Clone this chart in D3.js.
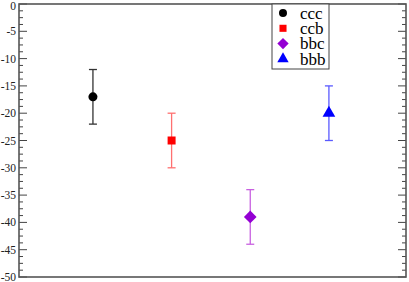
<!DOCTYPE html>
<html>
<head>
<meta charset="utf-8">
<script src="https://cdn.jsdelivr.net/npm/d3@7"></script>
<style>
  body { margin: 0; background: #fff; }
</style>
</head>
<body>
<svg id="chart" width="409" height="282" font-family="Liberation Serif"></svg>
<script>
// data
const names = ["ccc", "ccb", "bbc", "bbb"];
const values = [-17, -25, -39, -20];
const errors = [5, 5, 5, 5];
const colors = ["#000000", "#ff0000", "#9400d3", "#0000ff"];
const barColors = ["#333333", "#ff7070", "#c860e0", "#5a5aff"];
const yTicks = [0, -5, -10, -15, -20, -25, -30, -35, -40, -45, -50];

// square diamond (rotated square) rather than d3's stretched one
const squareDiamond = {
  draw(ctx, size) {
    const r = Math.sqrt(size / 2);
    ctx.moveTo(0, -r); ctx.lineTo(r, 0); ctx.lineTo(0, r); ctx.lineTo(-r, 0); ctx.closePath();
  }
};
const shapes = [d3.symbolCircle, d3.symbolSquare, squareDiamond, d3.symbolTriangle];

const svg = d3.select("#chart");
const plotL = 19, plotR = 406, plotT = 4, plotB = 277;

const x = d3.scaleLinear().domain([0.06, 4.98]).range([plotL, plotR]);
const y = d3.scaleLinear().domain([0, -50]).range([plotT, plotB]);

// minor ticks every 1.25
const minor = d3.range(0, -50.01, -1.25).filter(v => !yTicks.includes(v));

function ticks(data, x0, len) {
  svg.append("g").selectAll("line").data(data).join("line")
      .attr("x1", x0).attr("x2", x0 + len)
      .attr("y1", d => y(d)).attr("y2", d => y(d))
      .attr("stroke", "#444").attr("stroke-width", 1);
}
ticks(yTicks, plotL, 8);
ticks(minor, plotL, 4);
ticks(yTicks, plotR, -8);
ticks(minor, plotR, -4);

// tick labels
svg.append("g").selectAll("text").data(yTicks).join("text")
    .attr("x", 16).attr("y", d => Math.max(y(d), 6))
    .attr("dy", "0.35em")
    .attr("text-anchor", "end")
    .style("font", '11.5px "Liberation Serif"')
    .attr("fill", "#222")
    .text(d => d);

// frame
svg.append("rect")
    .attr("x", plotL).attr("y", plotT)
    .attr("width", plotR - plotL).attr("height", plotB - plotT)
    .attr("fill", "none").attr("stroke", "#555").attr("stroke-width", 1.6);

// error bars
const pts = names.map((n, i) => ({ i, n, v: values[i], e: errors[i] }));
const eb = svg.append("g").selectAll("g").data(pts).join("g")
    .attr("stroke", d => barColors[d.i]).attr("stroke-width", 1.3);
eb.append("line")
    .attr("x1", d => x(d.i + 1)).attr("x2", d => x(d.i + 1))
    .attr("y1", d => y(d.v + d.e)).attr("y2", d => y(d.v - d.e));
eb.append("line")
    .attr("x1", d => x(d.i + 1) - 4).attr("x2", d => x(d.i + 1) + 4)
    .attr("y1", d => y(d.v + d.e)).attr("y2", d => y(d.v + d.e));
eb.append("line")
    .attr("x1", d => x(d.i + 1) - 4).attr("x2", d => x(d.i + 1) + 4)
    .attr("y1", d => y(d.v - d.e)).attr("y2", d => y(d.v - d.e));

// markers
const sizes = [64, 64, 80, 70];
svg.append("g").selectAll("path").data(pts).join("path")
    .attr("transform", d => `translate(${x(d.i + 1)},${y(d.v)})`)
    .attr("d", d => d3.symbol(shapes[d.i], sizes[d.i])())
    .attr("fill", d => colors[d.i]);

// legend
const lg = svg.append("g");
lg.append("rect")
    .attr("x", 272).attr("y", 4).attr("width", 57).attr("height", 65)
    .attr("fill", "#fff").attr("stroke", "#444").attr("stroke-width", 1);
const rows = lg.selectAll("g").data(pts).join("g")
    .attr("transform", d => `translate(283,${13 + d.i * 15.3})`);
rows.append("path")
    .attr("d", d => d3.symbol(shapes[d.i], [50, 50, 64, 56][d.i])())
    .attr("fill", d => colors[d.i]);
rows.append("text")
    .attr("x", 17).attr("dy", "0.33em")
    .style("font", '17px "Liberation Serif"')
    .attr("fill", "#000")
    .text(d => d.n);
</script>
</body>
</html>
